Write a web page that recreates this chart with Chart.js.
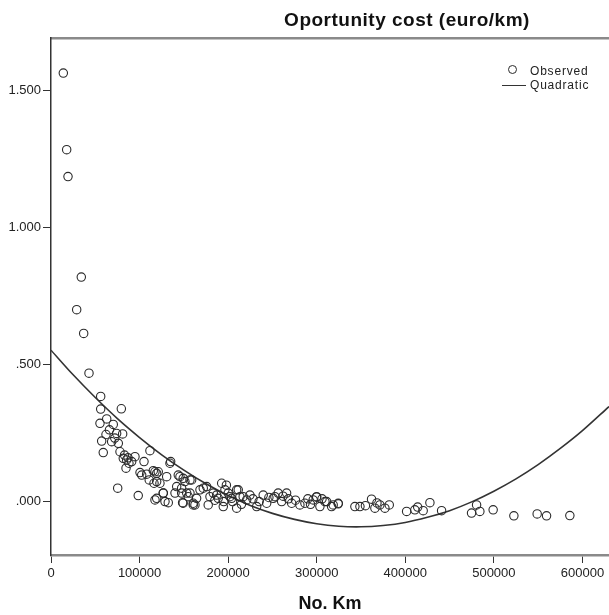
<!DOCTYPE html>
<html>
<head>
<meta charset="utf-8">
<script src="https://cdn.jsdelivr.net/npm/chart.js@4/dist/chart.umd.min.js"></script>
<style>
  html, body { margin: 0; padding: 0; background: #fff; overflow: hidden; }
  #wrap { position: relative; width: 609px; height: 615px; }
  #title { position: absolute; left: 407px; top: 9px; transform: translateX(-50%); white-space: nowrap;
           font: bold 19px "Liberation Sans", Arial, sans-serif; letter-spacing: 0.5px; color: #111; }
  #legend { position: absolute; left: 500px; top: 64px; font: 12px "Liberation Sans", Arial, sans-serif;
            letter-spacing: 0.8px; color: #222; line-height: 14px; }
  #legend .row { display: flex; align-items: center; height: 14px; }
  #legend .sym { width: 26px; height: 14px; position: relative; margin-right: 4px; }
  #legend .circ { position: absolute; left: 8px; top: 1px; width: 7px; height: 7px; border: 1.2px solid #2a2a2a; border-radius: 50%; }
  #legend .ln { position: absolute; left: 2px; top: 7px; width: 24px; height: 0; border-top: 1.6px solid #333; }
</style>
</head>
<body>
<div id="wrap">
  <canvas id="c" width="609" height="615"></canvas>
  <div id="title">Oportunity cost (euro/km)</div>
  <div id="legend">
    <div class="row"><span class="sym"><span class="circ"></span></span><span>Observed</span></div>
    <div class="row"><span class="sym"><span class="ln"></span></span><span>Quadratic</span></div>
  </div>
</div>
<script>
// ---- Data ----
const kmObserved = [
  13900, 17700, 19200, 34200, 29000, 36900, 42900,
  56100, 56100, 79400, 55300, 62900, 70300, 62100, 57200, 59000, 68500, 76000, 74100, 80900, 66000, 72000,
  77900, 81600, 85400, 91100, 94800, 88000, 84700, 87000, 83000,
  75300, 98500,
  105000, 111700, 100500, 102400, 115500, 119300, 110900, 116300, 130600, 135100, 119300, 126800, 132400,
  117400, 119300, 126700, 117400, 128700, 121100, 123000, 134300, 108000,
  145600, 151200, 158800, 141900, 147500, 148600, 160600, 155000, 164400, 143700, 149300, 147500, 140000,
  153200, 160600, 156900, 149200, 162500, 156900, 168200, 175700, 179500, 177500, 183200, 188800, 192700,
  196400, 200100, 194500, 203900, 209600, 209600, 213300, 220900, 224600, 232200, 239600, 243500, 250900,
  256500, 260400, 266000, 271700, 281000, 286700, 296000, 299900, 303600, 311200, 318600, 324300,
  171900, 187000, 202000, 211400, 217000, 252800, 198000, 195000, 185000, 205000, 215000, 228000, 235000,
  246000, 262000, 268000, 276000, 290000, 293000, 306000, 316800, 309300, 299900, 324300,
  343100, 348800, 361900, 365700, 371300, 377000, 381900, 355000, 368000,
  401500, 410800, 420200, 427800, 441000, 414000,
  474800, 480500, 484200, 499200, 522600, 548900, 559500, 585800
];
const costObserved = [
  1.565, 1.285, 1.187, 0.820, 0.701, 0.614, 0.469,
  0.384, 0.338, 0.339, 0.286, 0.302, 0.282, 0.245, 0.221, 0.179, 0.219, 0.213, 0.249, 0.247, 0.262, 0.232,
  0.182, 0.158, 0.152, 0.146, 0.164, 0.140, 0.122, 0.160, 0.170,
  0.049, 0.022,
  0.146, 0.186, 0.106, 0.097, 0.113, 0.103, 0.079, 0.067, 0.091, 0.146, 0.012, 0.031, -0.004,
  0.109, 0.073, 0.031, 0.006, 0.000, 0.109, 0.067, 0.140, 0.100,
  0.091, 0.073, 0.079, 0.055, 0.031, -0.004, -0.012, 0.018, 0.012, 0.097, 0.085, 0.049, 0.031,
  0.031, -0.006, 0.079, -0.006, -0.012, 0.031, 0.043, 0.055, 0.018, -0.012, 0.031, 0.012, 0.067,
  0.043, 0.031, -0.018, 0.012, 0.043, -0.024, 0.018, 0.006, 0.024, -0.018, 0.024, -0.006, 0.012,
  0.031, 0.000, 0.031, -0.006, -0.012, -0.006, 0.006, 0.018, -0.018, 0.000, -0.012, -0.006,
  0.049, 0.024, 0.018, 0.043, 0.018, 0.018, 0.060, 0.000, 0.005, 0.000, -0.010, 0.010, 0.000,
  0.015, 0.020, 0.010, 0.005, 0.010, -0.010, 0.010, -0.018, 0.000, 0.016, -0.008,
  -0.018, -0.018, 0.009, -0.024, -0.012, -0.024, -0.012, -0.015, -0.005,
  -0.036, -0.030, -0.033, -0.004, -0.033, -0.020,
  -0.042, -0.012, -0.036, -0.030, -0.052, -0.045, -0.052, -0.051
];
// Quadratic fit line
const kmQuadratic = [0, 25000, 50000, 75000, 100000, 125000, 150000, 175000, 200000, 225000, 250000,
  275000, 300000, 325000, 350000, 375000, 400000, 425000, 450000, 475000, 500000, 525000, 550000,
  575000, 600000, 630000];
const costQuadratic = [0.553, 0.463, 0.380, 0.303, 0.234, 0.171, 0.115, 0.065, 0.022, -0.014, -0.043,
  -0.065, -0.081, -0.090, -0.092, -0.087, -0.076, -0.057, -0.033, -0.001, 0.038, 0.083, 0.135,
  0.194, 0.259, 0.347];
const xTickValues = [0, 100000, 200000, 300000, 400000, 500000, 600000];
const xTickLabels = ['0', '100000', '200000', '300000', '400000', '500000', '600000'];
const yTickValues = [0, 0.5, 1.0, 1.5];
const yTickLabels = ['.000', '.500', '1.000', '1.500'];

const FAMILY = '"Liberation Sans", Arial, sans-serif';

const observedPoints = kmObserved.map((x, i) => ({ x: x, y: costObserved[i] }));
const quadraticPoints = kmQuadratic.map((x, i) => ({ x: x, y: costQuadratic[i] }));

new Chart(document.getElementById('c'), {
  type: 'scatter',
  data: {
    datasets: [
      {
        label: 'Quadratic',
        type: 'line',
        data: quadraticPoints,
        borderColor: '#333',
        borderWidth: 1.6,
        pointRadius: 0,
        tension: 0.3,
        fill: false,
        order: 2
      },
      {
        label: 'Observed',
        data: observedPoints,
        pointStyle: 'circle',
        pointRadius: 4.2,
        borderWidth: 1.1,
        borderColor: '#2a2a2a',
        backgroundColor: 'rgba(0,0,0,0)',
        order: 1
      }
    ]
  },
  options: {
    responsive: false,
    animation: false,
    layout: { autoPadding: false, padding: { top: 38, left: 0, right: 0, bottom: 0 } },
    plugins: {
      legend: { display: false },
      title: { display: false },
      tooltip: { enabled: false }
    },
    scales: {
      x: {
        type: 'linear',
        position: 'bottom',
        min: 0,
        max: 630000,
        afterBuildTicks: (s) => { s.ticks = xTickValues.map(v => ({ value: v })); },
        afterFit: (s) => { s.height = 60; s.paddingRight = 0; s.paddingLeft = 0; },
        ticks: {
          color: '#222',
          font: { family: FAMILY, size: 13 },
          padding: 3,
          maxRotation: 0,
          autoSkip: false,
          callback: (v, i) => xTickLabels[i]
        },
        grid: { display: true, drawOnChartArea: false, drawTicks: true, tickLength: 8, tickColor: '#333', color: '#333' },
        border: { display: true, color: '#8a8a8a', width: 2.5 },
        title: {
          display: true, text: 'No. Km', color: '#111',
          font: { family: FAMILY, size: 18, weight: 'bold' },
          padding: { top: 6, bottom: 0 }
        }
      },
      x2: {
        type: 'linear',
        position: 'top',
        min: 0,
        max: 630000,
        afterFit: (s) => { s.height = 0; s.paddingRight = 0; s.paddingLeft = 0; },
        ticks: { display: false },
        grid: { display: false, drawTicks: false },
        border: { display: true, color: '#8a8a8a', width: 2.5 }
      },
      y: {
        type: 'linear',
        position: 'left',
        min: -0.195,
        max: 1.693,
        afterBuildTicks: (s) => { s.ticks = yTickValues.map(v => ({ value: v })); },
        afterFit: (s) => { s.width = 51; s.paddingTop = 0; s.paddingBottom = 0; },
        ticks: {
          color: '#222',
          font: { family: FAMILY, size: 13 },
          padding: 2,
          autoSkip: false,
          callback: (v, i) => yTickLabels[i]
        },
        grid: { display: true, drawOnChartArea: false, drawTicks: true, tickLength: 8, tickColor: '#333', color: '#333' },
        border: { display: true, color: '#333', width: 1.5 }
      }
    }
  }
});
</script>
</body>
</html>
